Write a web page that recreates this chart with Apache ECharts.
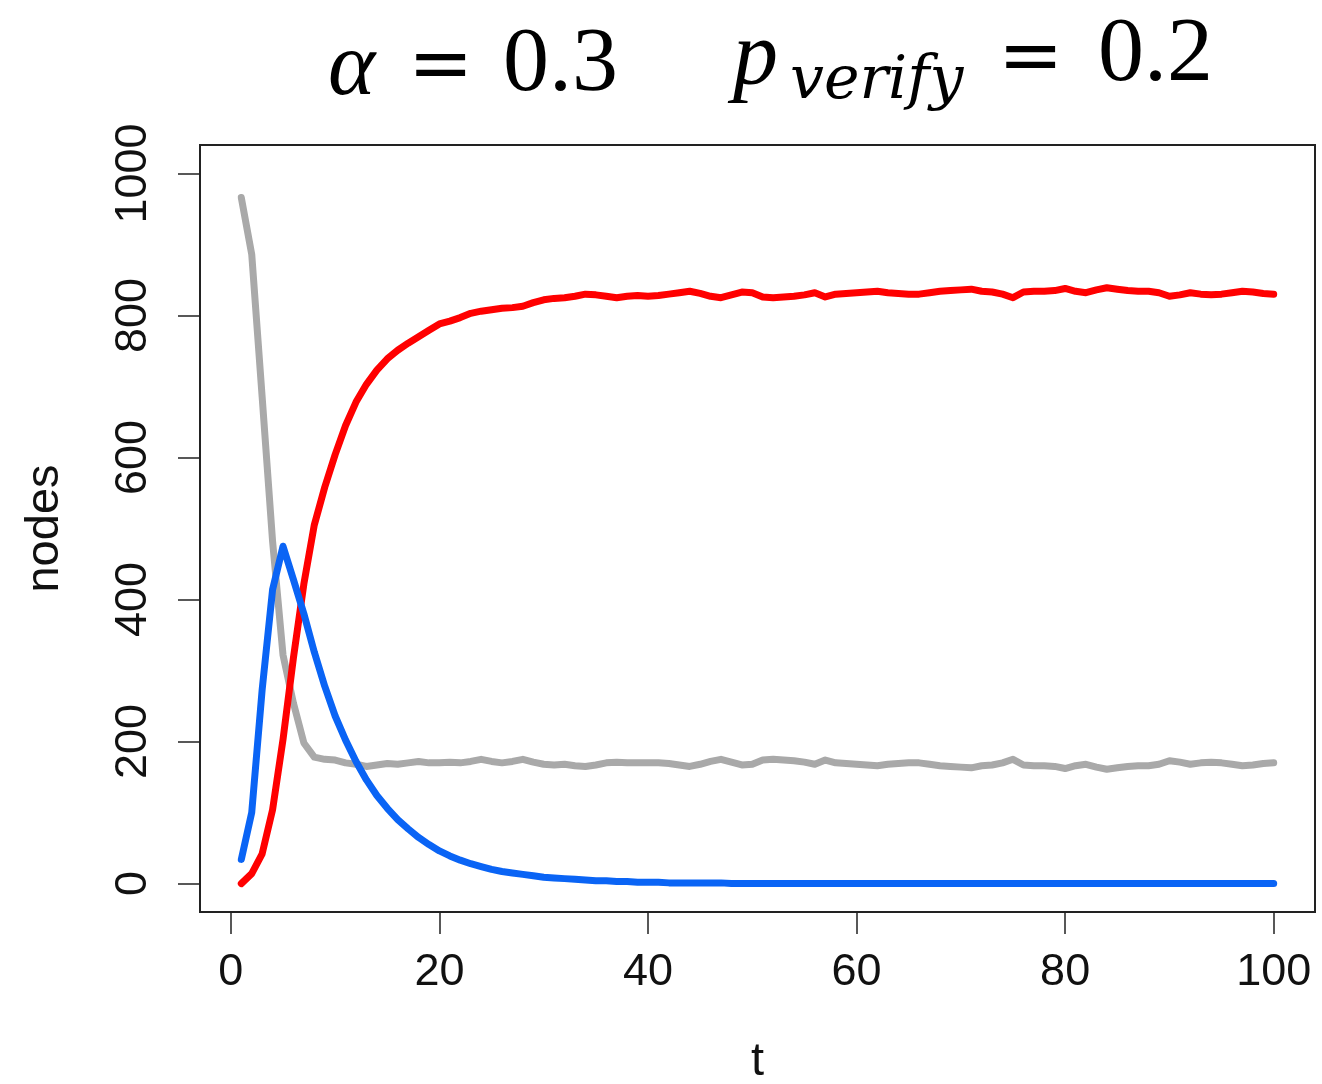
<!DOCTYPE html>
<html>
<head>
<meta charset="utf-8">
<script src="https://cdn.jsdelivr.net/npm/echarts@6/dist/echarts.min.js"></script>
<style>
html,body{margin:0;padding:0;background:#fff;}
#chart{width:1322px;height:1084px;}
</style>
</head>
<body>
<div id="chart"></div>
<script>
// time steps
const tSteps = Array.from({length: 100}, (_, i) => i + 1);
const xTicks = [0, 20, 40, 60, 80, 100];
const yTicks = [0, 200, 400, 600, 800, 1000];

// gray series
const grayVals = [
966,886,685,482,322,254,198,178,175,174,
170,168,165,167,169,168,170,172,170,170,
171,170,172,175,172,170,172,175,171,168,
167,168,166,165,167,170,171,170,170,170,
170,169,167,165,168,172,175,171,167,168,
174,175,174,173,171,168,174,170,169,168,
167,166,168,169,170,170,168,166,165,164,
163,166,167,170,175,167,166,166,165,162,
166,168,164,161,163,165,166,166,168,173,
171,168,170,171,170,168,166,167,169,170];

// red series
const redVals = [
0,14,42,104,203,318,422,505,558,604,
645,678,703,723,739,751,761,770,779,788,
792,797,803,806,808,810,811,813,818,822,
824,825,827,830,829,827,825,827,828,827,
828,830,832,834,831,827,825,829,833,832,
826,825,826,827,829,832,826,830,831,832,
833,834,832,831,830,830,832,834,835,836,
837,834,833,830,825,833,834,834,835,838,
834,832,836,839,837,835,834,834,832,827,
829,832,830,829,830,832,834,833,831,830];

// blue series
const blueVals = [
34,100,273,414,475,428,380,326,278,236,
202,172,146,124,106,90,77,65,55,46,
39,33,28,24,20,17,15,13,11,9,
8,7,6,5,4,4,3,3,2,2,
2,1,1,1,1,1,1,0,0,0,
0,0,0,0,0,0,0,0,0,0,
0,0,0,0,0,0,0,0,0,0,
0,0,0,0,0,0,0,0,0,0,
0,0,0,0,0,0,0,0,0,0,
0,0,0,0,0,0,0,0,0,0];

const pair = vals => tSteps.map((t, i) => [t, vals[i]]);
const SANS = '"Liberation Sans", Arial, Helvetica, sans-serif';
const SERIF = '"Liberation Serif", "Times New Roman", serif';

function lineSeries(name, vals, color, z) {
  return {
    name: name, type: 'line', data: pair(vals), showSymbol: false, symbol: 'none',
    z: z, silent: true,
    lineStyle: {color: color, width: 7, cap: 'round', join: 'round'}
  };
}

function txt(text, x, y, font) {
  return {type: 'text', x: x, y: y, silent: true,
    style: {text: text, font: font, fill: '#000', align: 'left', verticalAlign: 'middle',
            textAlign: 'left', textVerticalAlign: 'middle'}};
}

const chart = echarts.init(document.getElementById('chart'), null, {renderer: 'canvas'});
chart.setOption({
  animation: false,
  backgroundColor: '#ffffff',
  grid: {left: 200, top: 145, width: 1115, height: 767, show: true, containLabel: false,
         outerBoundsMode: 'none',
         borderColor: '#222', borderWidth: 2, backgroundColor: 'transparent'},
  xAxis: {
    type: 'value', min: -2.96, max: 103.96,
    name: 't', nameLocation: 'middle', nameGap: 127,
    nameTextStyle: {fontSize: 47, color: '#111', fontFamily: SANS},
    axisLine: {show: false, onZero: false},
    axisTick: {show: true, inside: false, length: 22, customValues: xTicks, lineStyle: {color: '#222', width: 1.5}},
    axisLabel: {customValues: xTicks, fontSize: 45, margin: 38, color: '#111', fontFamily: SANS,
                formatter: v => String(v)},
    splitLine: {show: false}
  },
  yAxis: {
    type: 'value', min: -40, max: 1040,
    name: 'nodes', nameLocation: 'middle', nameGap: 131,
    nameTextStyle: {fontSize: 47, color: '#111', fontFamily: SANS},
    axisLine: {show: false, onZero: false},
    axisTick: {show: true, inside: false, length: 22, customValues: yTicks, lineStyle: {color: '#222', width: 1.5}},
    axisLabel: {customValues: yTicks, fontSize: 45, margin: 44, rotate: 90, color: '#111', fontFamily: SANS,
                formatter: v => String(v)},
    splitLine: {show: false}
  },
  series: [
    lineSeries('gray', grayVals, '#a9a9a9', 2),
    lineSeries('red', redVals, '#ff0000', 3),
    lineSeries('blue', blueVals, '#0a64f5', 4)
  ],
  graphic: [
    txt('α', 328, 70, 'italic 90px ' + SERIF),
    txt('=', 408, 70, '78px "DejaVu Serif", serif'),
    txt('0.3', 503, 66, '92px ' + SERIF),
    txt('p', 733, 60, 'italic 90px ' + SERIF),
    txt('verify', 790, 82, 'italic 60px "DejaVu Serif", serif'),
    txt('=', 998, 62, '78px "DejaVu Serif", serif'),
    txt('0.2', 1098, 56, '92px ' + SERIF)
  ]
});
</script>
</body>
</html>
